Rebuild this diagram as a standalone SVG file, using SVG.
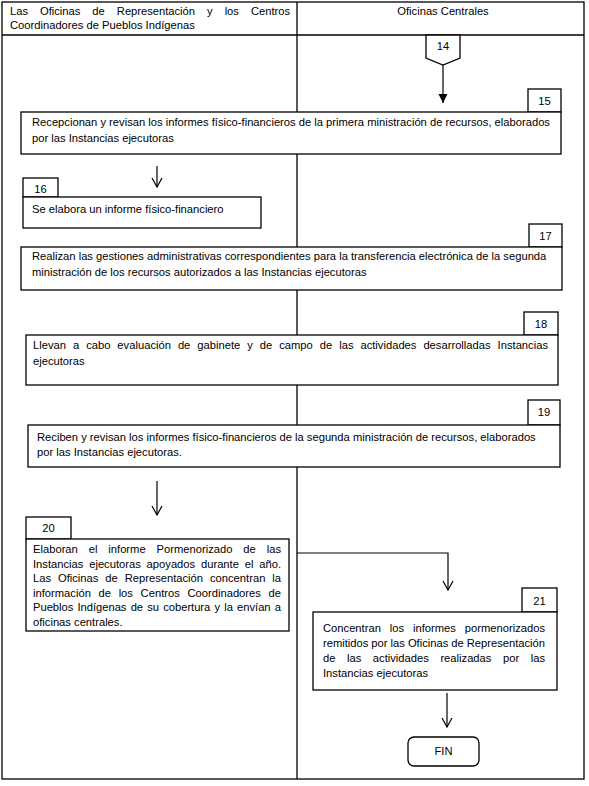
<svg xmlns="http://www.w3.org/2000/svg" width="589" height="786" viewBox="0 0 589 786">
<style>
text{font-family:"Liberation Sans",Arial,sans-serif;font-size:11.2px;fill:#000}
.c{text-anchor:middle}
.b{fill:#fff;stroke:#000;stroke-width:1.3}
.frame{fill:none;stroke:#000;stroke-width:1.3}
.ln{fill:none;stroke:#000;stroke-width:1.2}
</style>
<defs>
<marker id="v" viewBox="-11 -7 13 14" markerWidth="13" markerHeight="14" refX="0" refY="0" orient="auto" markerUnits="userSpaceOnUse" overflow="visible">
<path d="M-9,-5 L0,0 L-9,5" fill="none" stroke="#000" stroke-width="1.2"/>
</marker>
<marker id="f" viewBox="-11 -7 13 14" markerWidth="13" markerHeight="14" refX="0" refY="0" orient="auto" markerUnits="userSpaceOnUse" overflow="visible">
<path d="M-9,-4.5 L0,0 L-9,4.5 Z" fill="#000" stroke="none"/>
</marker>
</defs>
<rect width="589" height="786" fill="#fff"/>
<g id="frame">
<rect class="frame" x="2" y="2" width="582" height="777"/>
<line class="frame" x1="2" y1="35" x2="584" y2="35"/>
<line class="frame" x1="297" y1="2" x2="297" y2="779"/>
<text x="10" y="15" word-spacing="8.97" textLength="280" lengthAdjust="spacing">Las Oficinas de Representación y los Centros</text>
<text x="10" y="29">Coordinadores de Pueblos Indígenas</text>
<text class="c" x="443" y="15">Oficinas Centrales</text>
</g>
<g id="connectors">
<line class="ln" x1="443" y1="65" x2="443" y2="103" marker-end="url(#f)"/>
<line class="ln" x1="157" y1="166" x2="157" y2="187" marker-end="url(#v)"/>
<line class="ln" x1="157" y1="481" x2="157" y2="515" marker-end="url(#v)"/>
<polyline class="ln" points="297,553 448,553 448,590" marker-end="url(#v)"/>
<line class="ln" x1="447" y1="693" x2="447" y2="727" marker-end="url(#v)"/>
</g>
<g id="n14">
<polygon class="b" points="426,35 460,35 460,58 443,65 426,58"/>
<text class="c" x="443" y="50">14</text>
</g>
<g id="n15">
<rect class="b" x="528" y="89" width="33" height="23"/>
<text class="c" x="544.5" y="105">15</text>
<rect class="b" x="21" y="112" width="540" height="42"/>
<text x="32" y="126">Recepcionan y revisan los informes físico-financieros de la primera ministración de recursos, elaborados</text>
<text x="32" y="142">por las Instancias ejecutoras</text>
</g>
<g id="n16">
<rect class="b" x="23" y="178" width="35" height="19"/>
<text class="c" x="40.5" y="193">16</text>
<rect class="b" x="23" y="197" width="238" height="31"/>
<text x="32" y="213">Se elabora un informe físico-financiero</text>
</g>
<g id="n17">
<rect class="b" x="529" y="224" width="33" height="23"/>
<text class="c" x="545.5" y="240">17</text>
<rect class="b" x="21" y="247" width="541" height="43"/>
<text x="32" y="260">Realizan las gestiones administrativas correspondientes para la transferencia electrónica de la segunda</text>
<text x="32" y="276">ministración de los recursos autorizados a las Instancias ejecutoras</text>
</g>
<g id="n18">
<rect class="b" x="524" y="312" width="34" height="23"/>
<text class="c" x="541" y="328">18</text>
<rect class="b" x="26" y="335" width="532" height="50"/>
<text x="33" y="349" word-spacing="3.84" textLength="515" lengthAdjust="spacing">Llevan a cabo evaluación de gabinete y de campo de las actividades desarrolladas Instancias</text>
<text x="33" y="365">ejecutoras</text>
</g>
<g id="n19">
<rect class="b" x="528" y="400" width="32" height="25"/>
<text class="c" x="544" y="416">19</text>
<rect class="b" x="28" y="425" width="532" height="42"/>
<text x="37" y="441">Reciben y revisan los informes físico-financieros de la segunda ministración de recursos, elaborados</text>
<text x="37" y="456">por las Instancias ejecutoras.</text>
</g>
<g id="n20">
<rect class="b" x="26" y="517" width="45" height="22"/>
<text class="c" x="48.5" y="532">20</text>
<rect class="b" x="26" y="539" width="263" height="92"/>
<text x="33" y="553" word-spacing="7.77" textLength="248" lengthAdjust="spacing">Elaboran el informe Pormenorizado de las</text>
<text x="33" y="568" word-spacing="2.67" textLength="248" lengthAdjust="spacing">Instancias ejecutoras apoyados durante el año.</text>
<text x="33" y="582" word-spacing="3.79" textLength="248" lengthAdjust="spacing">Las Oficinas de Representación concentran la</text>
<text x="33" y="597" word-spacing="4.53" textLength="248" lengthAdjust="spacing">información de los Centros Coordinadores de</text>
<text x="33" y="611" word-spacing="1.12" textLength="248" lengthAdjust="spacing">Pueblos Indígenas de su cobertura y la envían a</text>
<text x="33" y="626">oficinas centrales.</text>
</g>
<g id="n21">
<rect class="b" x="522" y="588" width="35" height="24"/>
<text class="c" x="539.5" y="605">21</text>
<rect class="b" x="313" y="612" width="244" height="78"/>
<text x="323" y="632" word-spacing="5.76" textLength="222" lengthAdjust="spacing">Concentran los informes pormenorizados</text>
<text x="323" y="647" textLength="222" lengthAdjust="spacing">remitidos por las Oficinas de Representación</text>
<text x="323" y="662" word-spacing="8.43" textLength="222" lengthAdjust="spacing">de las actividades realizadas por las</text>
<text x="323" y="677">Instancias ejecutoras</text>
</g>
<g id="fin">
<rect class="b" x="408" y="737" width="71" height="29" rx="6" ry="6"/>
<text class="c" x="443.5" y="755">FIN</text>
</g>
</svg>
